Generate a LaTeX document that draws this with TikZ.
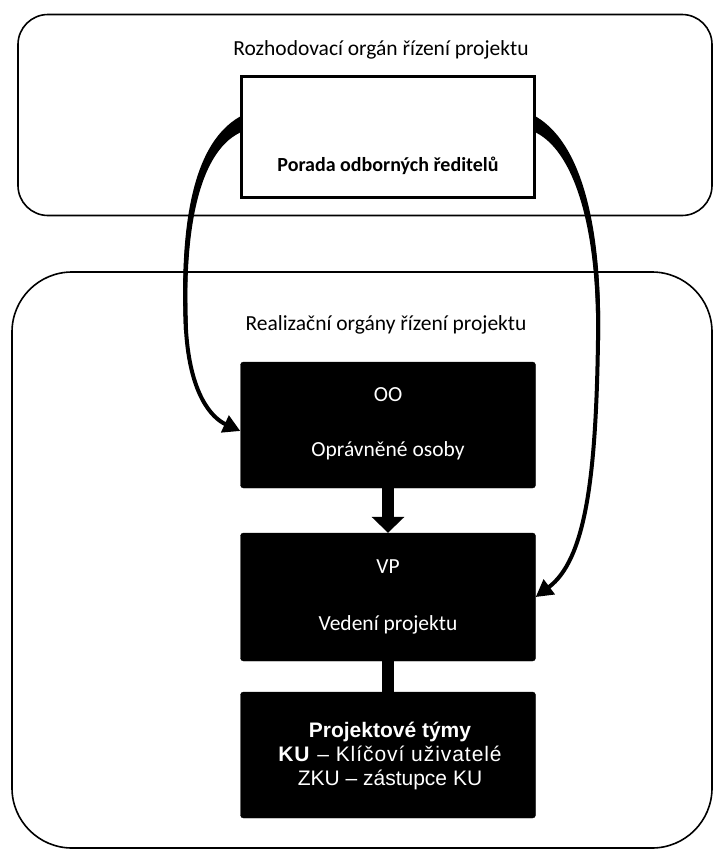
\documentclass[tikz,border=0pt]{standalone}
\usepackage{fontspec}
\setmainfont{Carlito}
\newfontfamily\arialf{Liberation Sans}
\usetikzlibrary{arrows.meta,calc}
\tikzset{
  container/.style={draw=black, line width=1.6pt, fill=white},
  darkbox/.style={fill=black, draw=black, rounded corners=3pt, minimum width=295pt, minimum height=126pt, inner sep=0pt},
  whitebox/.style={fill=white, draw=black, line width=3pt, minimum width=293pt, minimum height=121pt, inner sep=0pt},
  titletext/.style={font=\fontsize{21.5}{25}\selectfont, text=black},
  boxtext/.style={font=\fontsize{21.5}{25}\selectfont, text=white},
  curvearrow/.style={draw=black, line width=4pt, -{Triangle[length=17pt,width=18pt]}},
  fatarrow/.style={draw=black, line width=12pt, -{Triangle[length=16pt,width=32pt]}},
  fatline/.style={draw=black, line width=12pt},
}
\begin{document}
\begin{tikzpicture}[x=1pt,y=-1pt]
\useasboundingbox (0,0) rectangle (717,854);
% containers
\node[container, rounded corners=30pt, minimum width=694pt, minimum height=201pt] (top) at (365,115) {};
\node[container, rounded corners=60pt, minimum width=700pt, minimum height=576pt] (bot) at (362,560) {};
\node[titletext] (toptitle) at (381,50) {Rozhodovací orgán řízení projektu};
\node[titletext] (bottitle) at (386,325) {Realizační orgány řízení projektu};
% decision box
\node[whitebox] (rb) at (388,137) {};
\node[font=\fontsize{20}{24}\selectfont\bfseries, text=black] (rbt) at (388,166) {Porada odborných ředitelů};
% dark boxes
\node[darkbox] (oo) at (388,425) {};
\node[boxtext] (oot) at (388,395) {OO};
\node[boxtext] (oot2) at (388,451) {Oprávněné osoby};
\node[darkbox, minimum height=128pt] (vp) at (388,597) {};
\node[boxtext] (vpt) at (388,567) {VP};
\node[boxtext] (vpt2) at (388,625) {Vedení projektu};
\node[darkbox] (pt) at (388,755) {};
\node[text=white, align=center, font=\arialf\fontsize{21}{24}\selectfont] (ptt) at (390,756)
  {\textbf{Projektové týmy}\\{\addfontfeature{LetterSpace=4.5}\textbf{KU} – Klíčoví uživatelé}\\ZKU – zástupce KU};
% connectors
\coordinate (ls) at ($(rb.north west)!0.4!(rb.south west)$);
\coordinate (rs) at ($(rb.north east)!0.4!(rb.south east)$);
% tapered starts
\fill[black] ([yshift=8pt]ls) .. controls (188,146) and (180,240) .. (184,330)
   -- (188,330) .. controls (184,240) and (196,154) .. ([yshift=-8pt]ls) -- cycle;
\fill[black] ([yshift=8pt]rs) .. controls (586,146) and (602,240) .. (600,340)
   -- (596,340) .. controls (598,240) and (578,154) .. ([yshift=-8pt]rs) -- cycle;
\draw[curvearrow] (ls) .. controls (192,150) and (182,240) .. (186,330)
   .. controls (190,395) and (212,418) .. ([yshift=-6pt]oo.west);
\draw[curvearrow] (rs) .. controls (582,150) and (600,240) .. (598,340)
   .. controls (596,480) and (585,560) .. (vp.east);
\draw[fatarrow] (oo.south) -- (vp.north);
\draw[fatline] (vp.south) -- (pt.north);
\end{tikzpicture}
\end{document}
